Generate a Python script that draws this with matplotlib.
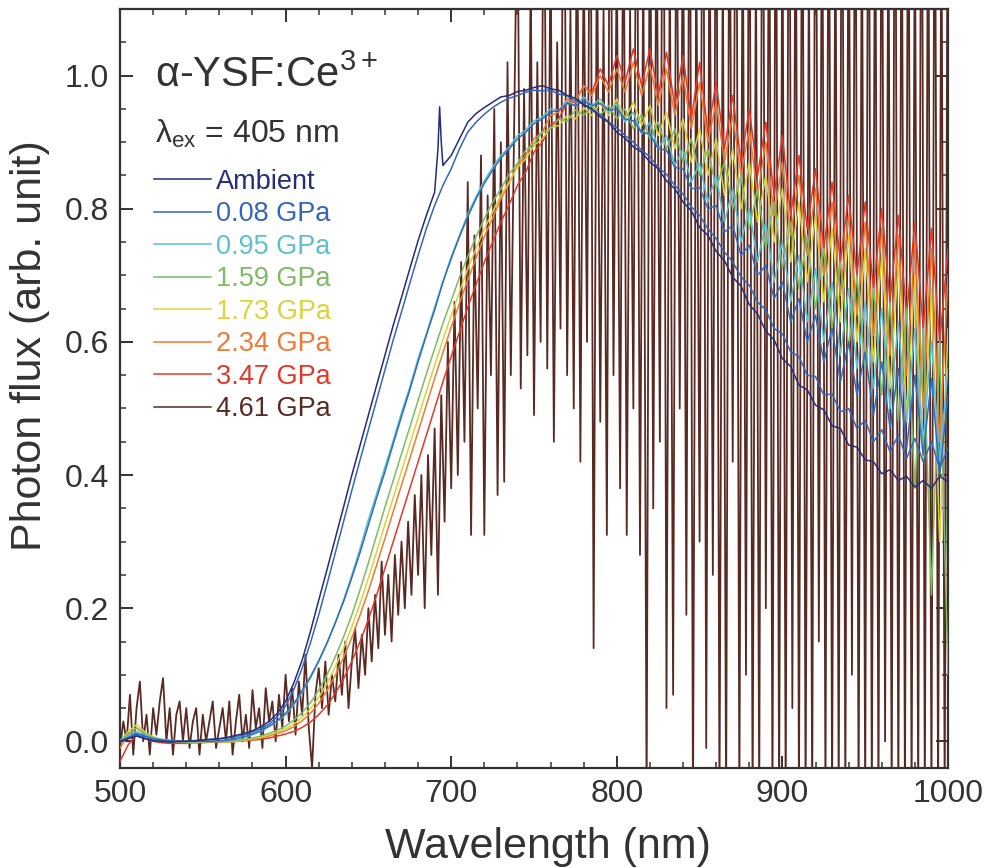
import numpy as np
import matplotlib
matplotlib.use("Agg")
import matplotlib.pyplot as plt
from matplotlib.ticker import MultipleLocator
from matplotlib.lines import Line2D

plt.rcParams['font.family'] = ['Liberation Sans', 'DejaVu Sans']
plt.rcParams['mathtext.fontset'] = 'custom'
plt.rcParams['mathtext.rm'] = 'Liberation Sans'
plt.rcParams['mathtext.it'] = 'Liberation Sans'

# ---------------- data ----------------
wl = np.arange(500, 1001, 5)          # wavelength grid of the coloured spectra (nm)
wl_hp = np.arange(500, 1001, 2)       # wavelength grid of the 4.61 GPa spectrum (nm)

labels = ["Ambient", "0.08 GPa", "0.95 GPa", "1.59 GPa", "1.73 GPa",
          "2.34 GPa", "3.47 GPa", "4.61 GPa"]
colors = ["#262c78", "#3466bd", "#5cc0d2", "#7dbb64", "#dcd23a",
          "#ee7a34", "#e2382a", "#5a2a22"]
extra_color = "#2f6cc0"

# ruby-fluorescence peak on the ambient trace
ruby_wl = [692, 693, 694]
ruby_val = [0.89, 0.953, 0.90]

ambient = [
    0.0, 0.004, 0.008, 0.004, 0.001, 0.0, -0.001, 0.0, 0.0, 0.001, 0.002, 0.003, 0.004,
    0.006, 0.009, 0.012, 0.016, 0.022, 0.03, 0.042, 0.06, 0.088, 0.122, 0.165, 0.212, 0.258,
    0.305, 0.352, 0.40, 0.445, 0.49, 0.535, 0.58, 0.625, 0.667, 0.71, 0.752, 0.79, 0.825, 0.865,
    0.88, 0.905, 0.93, 0.943, 0.952, 0.96, 0.968, 0.97, 0.976, 0.978, 0.982, 0.985, 0.98,
    0.978, 0.97, 0.966, 0.956, 0.95, 0.938, 0.93, 0.915, 0.906, 0.893, 0.885, 0.87, 0.86,
    0.842, 0.83, 0.81, 0.797, 0.772, 0.76, 0.736, 0.722, 0.697, 0.684, 0.656, 0.642, 0.616,
    0.603, 0.575, 0.563, 0.535, 0.528, 0.505, 0.498, 0.474, 0.47, 0.445, 0.442, 0.423, 0.42,
    0.402, 0.408, 0.392, 0.398, 0.382, 0.392, 0.38, 0.398, 0.39]

gpa008 = [
    0.0, 0.005, 0.01, 0.005, 0.002, 0.0, 0.0, 0.0, 0.0, 0.001, 0.002, 0.003, 0.004,
    0.005, 0.007, 0.01, 0.014, 0.019, 0.026, 0.037, 0.053, 0.078, 0.11, 0.148, 0.19, 0.236,
    0.283, 0.33, 0.377, 0.423, 0.468, 0.513, 0.558, 0.603, 0.645, 0.688, 0.73, 0.77, 0.805, 0.835,
    0.86, 0.89, 0.915, 0.93, 0.942, 0.952, 0.96, 0.966, 0.97, 0.975, 0.978, 0.977, 0.978,
    0.972, 0.97, 0.962, 0.958, 0.948, 0.942, 0.93, 0.922, 0.91, 0.9, 0.888, 0.878, 0.862,
    0.852, 0.835, 0.822, 0.803, 0.79, 0.77, 0.755, 0.735, 0.72, 0.698, 0.685, 0.66, 0.648,
    0.62, 0.612, 0.585, 0.578, 0.55, 0.548, 0.52, 0.522, 0.495, 0.5, 0.47, 0.482, 0.45,
    0.468, 0.435, 0.46, 0.425, 0.455, 0.42, 0.45, 0.41, 0.44]

extra_blue = [
    0.0, 0.006, 0.012, 0.008, 0.004, 0.002, 0.001, 0.0, 0.0, 0.0, 0.0, 0.0, 0.001,
    0.002, 0.004, 0.007, 0.011, 0.016, 0.023, 0.031, 0.042, 0.057, 0.076, 0.097, 0.121, 0.148,
    0.178, 0.21, 0.246, 0.284, 0.325, 0.366, 0.405, 0.447, 0.488, 0.528, 0.57, 0.61, 0.648, 0.69,
    0.725, 0.758, 0.788, 0.815, 0.838, 0.858, 0.876, 0.89, 0.905, 0.915, 0.928, 0.935, 0.945,
    0.948, 0.958, 0.955, 0.962, 0.955, 0.958, 0.948, 0.95, 0.935, 0.932, 0.915, 0.912, 0.89,
    0.888, 0.862, 0.86, 0.83, 0.832, 0.8, 0.805, 0.765, 0.775, 0.73, 0.745, 0.7, 0.715,
    0.665, 0.69, 0.63, 0.665, 0.6, 0.64, 0.57, 0.62, 0.54, 0.6, 0.52, 0.585, 0.49,
    0.57, 0.47, 0.56, 0.44, 0.55, 0.43, 0.545, 0.4, 0.52]

gpa095 = [
    0.0, 0.008, 0.015, 0.01, 0.005, 0.003, 0.002, 0.0, 0.0, 0.0, 0.0, 0.0, 0.0,
    0.001, 0.003, 0.006, 0.01, 0.015, 0.022, 0.03, 0.04, 0.055, 0.074, 0.095, 0.12, 0.147,
    0.178, 0.212, 0.25, 0.29, 0.333, 0.372, 0.412, 0.452, 0.494, 0.532, 0.575, 0.612, 0.652, 0.69,
    0.728, 0.76, 0.792, 0.818, 0.842, 0.862, 0.88, 0.893, 0.91, 0.918, 0.932, 0.938, 0.95,
    0.948, 0.962, 0.955, 0.968, 0.955, 0.965, 0.945, 0.958, 0.93, 0.945, 0.912, 0.93, 0.89,
    0.91, 0.865, 0.89, 0.84, 0.868, 0.81, 0.85, 0.78, 0.83, 0.75, 0.8, 0.72, 0.78,
    0.69, 0.75, 0.66, 0.73, 0.63, 0.71, 0.6, 0.69, 0.58, 0.68, 0.56, 0.66, 0.53,
    0.65, 0.5, 0.63, 0.48, 0.62, 0.45, 0.6, 0.42, 0.56]

gpa159 = [
    0.0, 0.012, 0.02, 0.012, 0.006, 0.003, 0.001, 0.0, 0.0, -0.001, 0.0, 0.0, 0.0,
    0.0, 0.001, 0.003, 0.005, 0.008, 0.012, 0.017, 0.023, 0.032, 0.043, 0.058, 0.077, 0.1,
    0.127, 0.157, 0.19, 0.228, 0.268, 0.31, 0.352, 0.392, 0.432, 0.472, 0.512, 0.552, 0.59, 0.628,
    0.662, 0.697, 0.728, 0.758, 0.785, 0.81, 0.83, 0.852, 0.868, 0.888, 0.898, 0.915, 0.92,
    0.935, 0.932, 0.948, 0.94, 0.955, 0.94, 0.955, 0.935, 0.95, 0.92, 0.942, 0.905, 0.93,
    0.89, 0.92, 0.87, 0.905, 0.85, 0.89, 0.83, 0.87, 0.8, 0.85, 0.77, 0.83, 0.74,
    0.81, 0.71, 0.78, 0.68, 0.76, 0.65, 0.74, 0.62, 0.72, 0.59, 0.70, 0.56, 0.68,
    0.52, 0.66, 0.48, 0.65, 0.38, 0.62, 0.22, 0.6, 0.1]

gpa173 = [
    0.0, 0.015, 0.025, 0.014, 0.007, 0.003, 0.001, 0.0, -0.001, -0.002, -0.001, 0.0, 0.0,
    -0.001, 0.0, 0.002, 0.004, 0.006, 0.01, 0.014, 0.019, 0.026, 0.036, 0.049, 0.066, 0.087,
    0.112, 0.14, 0.172, 0.207, 0.245, 0.285, 0.326, 0.366, 0.406, 0.446, 0.486, 0.526, 0.565, 0.603,
    0.64, 0.675, 0.71, 0.74, 0.77, 0.795, 0.82, 0.84, 0.862, 0.875, 0.895, 0.905, 0.922,
    0.925, 0.94, 0.935, 0.952, 0.94, 0.96, 0.94, 0.965, 0.935, 0.96, 0.925, 0.955, 0.91,
    0.945, 0.89, 0.935, 0.87, 0.92, 0.85, 0.905, 0.82, 0.89, 0.8, 0.87, 0.78, 0.85,
    0.75, 0.83, 0.72, 0.81, 0.69, 0.79, 0.66, 0.77, 0.63, 0.76, 0.6, 0.74, 0.57,
    0.73, 0.53, 0.72, 0.49, 0.7, 0.42, 0.68, 0.3, 0.62]

gpa234 = [
    -0.01, 0.01, 0.02, 0.012, 0.006, 0.002, 0.0, -0.001, -0.002, -0.002, -0.001, -0.001, 0.0,
    -0.001, 0.0, 0.001, 0.003, 0.005, 0.008, 0.012, 0.016, 0.022, 0.031, 0.042, 0.057, 0.076,
    0.099, 0.126, 0.156, 0.19, 0.226, 0.265, 0.305, 0.345, 0.385, 0.425, 0.465, 0.505, 0.545, 0.584,
    0.622, 0.658, 0.693, 0.726, 0.758, 0.786, 0.815, 0.838, 0.865, 0.88, 0.905, 0.915, 0.94,
    0.945, 0.965, 0.96, 0.985, 0.97, 1.0, 0.975, 1.01, 0.975, 1.02, 0.97, 1.015, 0.955,
    1.01, 0.94, 1.0, 0.92, 0.99, 0.9, 0.96, 0.87, 0.94, 0.85, 0.92, 0.82, 0.9,
    0.79, 0.87, 0.76, 0.85, 0.73, 0.83, 0.7, 0.81, 0.67, 0.79, 0.64, 0.78, 0.61,
    0.77, 0.58, 0.76, 0.55, 0.75, 0.5, 0.74, 0.45, 0.7]

gpa347 = [
    -0.03, -0.005, 0.01, 0.005, 0.0, -0.002, -0.003, -0.003, -0.003, -0.002, -0.002, -0.001, -0.001,
    -0.001, 0.0, 0.001, 0.002, 0.003, 0.005, 0.008, 0.011, 0.015, 0.021, 0.029, 0.04, 0.054,
    0.072, 0.094, 0.12, 0.15, 0.183, 0.22, 0.26, 0.3, 0.34, 0.38, 0.42, 0.46, 0.5, 0.54,
    0.578, 0.615, 0.652, 0.686, 0.72, 0.75, 0.78, 0.806, 0.835, 0.855, 0.885, 0.9, 0.925,
    0.935, 0.96, 0.96, 0.985, 0.975, 1.01, 0.985, 1.03, 0.99, 1.04, 0.985, 1.04, 0.97,
    1.035, 0.955, 1.03, 0.935, 1.02, 0.915, 0.99, 0.89, 0.97, 0.87, 0.95, 0.85, 0.93,
    0.82, 0.91, 0.79, 0.88, 0.77, 0.86, 0.74, 0.84, 0.72, 0.82, 0.7, 0.81, 0.68,
    0.8, 0.66, 0.79, 0.64, 0.78, 0.62, 0.77, 0.6, 0.74]

gpa461 = [
    # 500-620
    -0.01, 0.03, 0.0, 0.07, -0.02, 0.05, 0.09, 0.0, 0.04, -0.02, 0.05, 0.01, 0.06, 0.095,
    0.0, 0.05, -0.02, 0.04, 0.06, 0.0, 0.05, -0.01, 0.03, 0.05, -0.02, 0.04, 0.0, 0.03,
    0.06, -0.01, 0.02, 0.05, 0.0, 0.06, -0.02, 0.03, 0.07, 0.0, 0.04, -0.01, 0.077, 0.02,
    0.05, -0.01, 0.08, 0.03, 0.06, 0.0, 0.07, 0.02, 0.1, 0.03, 0.08, 0.01, 0.09, 0.04,
    0.13, 0.02, -0.04, 0.07, 0.11,
    # 622-700
    0.05, 0.12, 0.04, 0.10, 0.06, 0.13, 0.07, 0.15, 0.05, 0.12, 0.17, 0.08, 0.16, 0.10,
    0.20, 0.12, 0.22, 0.14, 0.27, 0.16, 0.25, 0.15, 0.28, 0.19, 0.30, 0.20, 0.33, 0.22,
    0.37, 0.25, 0.40, 0.20, 0.43, 0.28, 0.47, 0.22, 0.52, 0.33, 0.60, 0.38,
    # 702-820
    0.66, 0.40, 0.72, 0.45, 0.84, 0.31, 0.76, 0.50, 0.88, 0.31, 0.82, 0.55, 0.95, 0.37,
    0.90, 0.39, 1.02, 0.55, 0.92, 1.3, 0.53, 0.98, 0.58, 1.15, 0.49, 1.02, 0.60, 1.4,
    0.56, 1.2, 0.45, 1.05, 0.62, 1.5, 0.55, 1.1, 0.50, 1.3, 0.42, 1.2, 0.60, 1.45,
    0.14, 1.25, 0.48, 1.1, 0.31, 1.5, 0.55, 1.2, 0.38, 1.35, 0.31, 1.1, 0.50, 1.5,
    0.28, 1.2, -0.1, 1.4,
    # 822-1000
    0.35, 1.3, 0.45, 1.6, 0.05, 1.2, 0.07, 1.4, 0.5, 1.3, 0.19, 1.5, -0.1, 1.2, 0.3,
    1.6, -0.01, 1.3, 0.25, 1.5, -0.1, 1.2, -0.1, 1.4, 0.42, 1.6, -0.1, 1.3, 0.1, 1.5,
    -0.1, 1.2, -0.1, 1.6, 0.2, 1.4, -0.1, 1.5, -0.1, 1.3, -0.1, 1.6, 0.05, 1.4, -0.1,
    1.5, -0.1, 1.2, -0.1, 1.6, 0.15, 1.4, -0.1, 1.5, -0.1, 1.3, -0.1, 1.6, -0.1, 1.4,
    0.1, 1.5, -0.1, 1.3, -0.1, 1.6, -0.1, 1.4, -0.1, 1.5, 0.0, 1.3, -0.1, 1.6, -0.1,
    1.4, -0.1, 1.5, -0.1, 1.3, -0.1, 1.6, -0.1, 1.4, -0.1, 1.5, -0.1, 1.3, -0.1, 1.5]

# ---------------- figure ----------------
fig = plt.figure(figsize=(9.86, 8.68), dpi=100)
ax = fig.add_axes([120/986, 1-768/868, 828/986, 759/868])

ax.plot(wl_hp, gpa461, color=colors[7], lw=1.3, zorder=2)
series = [(gpa347, 6), (gpa234, 5), (gpa173, 4), (gpa159, 3), (gpa095, 2)]
for ys, i in series:
    ax.plot(wl, ys, color=colors[i], lw=1.1, zorder=3)
ax.plot(wl, extra_blue, color=extra_color, lw=1.1, zorder=3)
ax.plot(wl, gpa008, color=colors[1], lw=1.1, zorder=4)

amb_x = np.concatenate([wl, ruby_wl])
amb_y = np.concatenate([ambient, ruby_val])
order = np.argsort(amb_x)
ax.plot(amb_x[order], amb_y[order], color=colors[0], lw=1.1, zorder=5)

ax.set_xlim(500, 1000)
ax.set_ylim(-0.04, 1.10)
ax.xaxis.set_major_locator(MultipleLocator(100))
ax.xaxis.set_minor_locator(MultipleLocator(20))
ax.yaxis.set_major_locator(MultipleLocator(0.2))
ax.yaxis.set_minor_locator(MultipleLocator(0.05))
ax.yaxis.set_major_formatter(matplotlib.ticker.FormatStrFormatter('%.1f'))
ax.tick_params(which='both', direction='in', top=True, right=True, colors='#333333')
ax.tick_params(which='major', length=9, width=1.4, labelsize=23, pad=8)
ax.tick_params(which='minor', length=4.5, width=1.1)
for s in ax.spines.values():
    s.set_linewidth(1.6)
    s.set_color('#333333')

ax.set_xlabel("Wavelength (nm)", fontsize=31, color='#333333')
ax.set_ylabel("Photon flux (arb. unit)", fontsize=31, color='#333333')
ax.xaxis.set_label_coords(0.517, -0.078)
ax.yaxis.set_label_coords(-0.084, 0.557)

ax.text(0.042, 0.912, r"α-YSF:Ce$^{3+}$", transform=ax.transAxes, fontsize=30,
        color='#333333', va='center', ha='left')
ax.text(0.042, 0.835, r"λ$_{\rm ex}$ = 405 nm", transform=ax.transAxes, fontsize=23,
        color='#333333', va='center', ha='left')

handles = [Line2D([], [], color=c, lw=1.1) for c in colors]
ax.legend(handles, labels, loc='upper left', bbox_to_anchor=(0.028, 0.804),
          frameon=False, fontsize=19.5, handlelength=2.1, handletextpad=0.2,
          labelspacing=0.24, labelcolor=colors, borderaxespad=0)

fig.savefig("out.png", dpi=100)
